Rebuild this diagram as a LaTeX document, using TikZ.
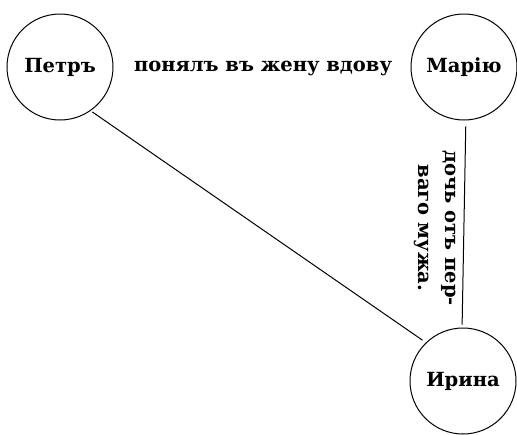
\documentclass[tikz,border=0pt]{standalone}
\usepackage{fontspec}
\setmainfont{DejaVu Serif}
\begin{document}
\begin{tikzpicture}[x=1pt,y=-1pt,
  person/.style={circle,draw,line width=1pt,minimum size=106pt,inner sep=0pt,font=\fontsize{19.5}{24}\selectfont\bfseries},
  link/.style={line width=1pt},
  lbl/.style={font=\fontsize{19.5}{27}\selectfont\bfseries,inner sep=0pt}]
\useasboundingbox (0,0) rectangle (517,434);
\node[person] (petr) at (60,67) {Петръ};
\node[person] (maria) at (464,67) {Марію};
\node[person] (irina) at (463,381) {Ирина};
\node[lbl] (wed) at (263,68) {понялъ въ жену вдову};
\node[lbl,rotate=-90,align=center] (doch) at (435,228) {дочь отъ пер-\\ваго мужа.};
\draw[link,shorten <=2pt,shorten >=4pt] (petr.-55) -- (irina.134);
\draw[link,shorten <=6pt,shorten >=3pt] (maria.-88) -- (irina.91);
\end{tikzpicture}
\end{document}
